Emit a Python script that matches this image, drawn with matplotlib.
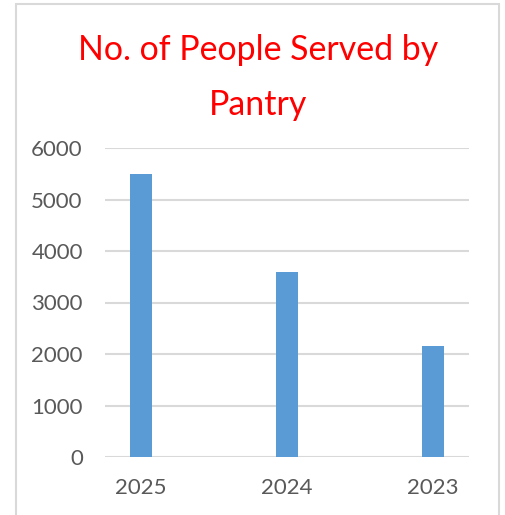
import matplotlib
matplotlib.use("Agg")
import matplotlib.pyplot as plt
from matplotlib.patches import Rectangle

categories = ["2025", "2024", "2023"]
values = [5500, 3600, 2160]
yticks = [0, 1000, 2000, 3000, 4000, 5000, 6000]
title_lines = ["No. of People Served by", "Pantry"]

W, H = 505, 515
fig = plt.figure(figsize=(W/100, H/100), dpi=100)
fig.patch.set_facecolor("white")

# outer chart border
fig.add_artist(Rectangle((16/W, -0.05), (499-16)/W, (H-4)/H + 0.05, transform=fig.transFigure,
                         fill=False, edgecolor="#d9d9d9", linewidth=1.5))

ax = fig.add_axes([105/W, 1-457/H, (469-105)/W, (457-148)/H])
x = range(len(categories))
ax.bar(x, values, width=0.157, color="#5b9bd5", zorder=3)
m = 36/146
ax.set_xlim(-m, 2 + m)
ax.set_ylim(0, 6000)
ax.set_yticks(yticks)
ax.set_xticks(list(x))
ax.set_xticklabels(categories)
for s in ax.spines.values():
    s.set_visible(False)
ax.grid(axis="y", color="#d9d9d9", linewidth=1.5, zorder=0)
ax.tick_params(length=0, labelsize=16, colors="#595959")
ax.tick_params(axis="y", pad=16)
ax.tick_params(axis="x", pad=15)
for lbl in ax.get_xticklabels() + ax.get_yticklabels():
    lbl.set_family("Lato")

baselines = [60, 115]
for txt, yb in zip(title_lines, baselines):
    fig.text(258/W, 1-yb/H, txt, ha="center", va="baseline", color="#ff0000",
             fontsize=24.4, family="Lato")

fig.savefig("out.png", dpi=100)
